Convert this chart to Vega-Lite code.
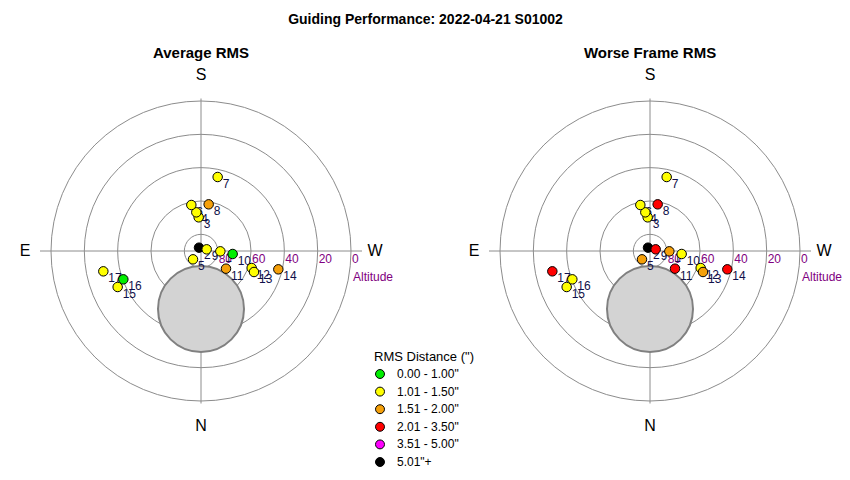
{
  "$schema": "https://vega.github.io/schema/vega-lite/v6.json",
  "padding": {"left": 1, "top": 13, "right": 0, "bottom": 0},
  "background": "white",
  "title": {"text": "Guiding Performance: 2022-04-21 S01002", "fontSize": 14, "fontWeight": "bold", "anchor": "middle", "offset": 19, "color": "black"},
  "config": {
    "font": "Liberation Sans",
    "view": {"stroke": null},
    "axis": {"disable": true},
    "legend": {"titleFontSize": 13, "titleFontWeight": "normal", "labelFontSize": 12, "symbolType": "circle", "symbolStrokeColor": "black", "symbolStrokeWidth": 1, "symbolSize": 80, "symbolOpacity": 1, "rowPadding": 3.6, "padding": 0, "labelOffset": 11, "titleColor": "black", "labelColor": "black", "titlePadding": 4}
  },
  "datasets": {
    "points": [
      {"n": "1", "x": 11.6, "y": -0.2, "avg": "1.01 - 1.50\"", "worst": "1.51 - 2.00\""},
      {"n": "2", "x": -1.2, "y": 2.0, "avg": "5.01\"+", "worst": "5.01\"+"},
      {"n": "3", "x": -1.4, "y": 20.2, "avg": "1.01 - 1.50\"", "worst": "1.01 - 1.50\""},
      {"n": "4", "x": -2.8, "y": 23.2, "avg": "1.01 - 1.50\"", "worst": "1.01 - 1.50\""},
      {"n": "5", "x": -4.8, "y": -5.0, "avg": "1.01 - 1.50\"", "worst": "1.51 - 2.00\""},
      {"n": "6", "x": -5.8, "y": 27.6, "avg": "1.01 - 1.50\"", "worst": "1.01 - 1.50\""},
      {"n": "7", "x": 10.0, "y": 44.4, "avg": "1.01 - 1.50\"", "worst": "1.01 - 1.50\""},
      {"n": "8", "x": 4.6, "y": 28.0, "avg": "1.51 - 2.00\"", "worst": "2.01 - 3.50\""},
      {"n": "9", "x": 3.4, "y": 1.0, "avg": "1.01 - 1.50\"", "worst": "2.01 - 3.50\""},
      {"n": "10", "x": 19.0, "y": -1.8, "avg": "0.00 - 1.00\"", "worst": "1.01 - 1.50\""},
      {"n": "11", "x": 15.0, "y": -10.6, "avg": "1.51 - 2.00\"", "worst": "2.01 - 3.50\""},
      {"n": "12", "x": 30.4, "y": -10.2, "avg": "1.01 - 1.50\"", "worst": "1.01 - 1.50\""},
      {"n": "13", "x": 31.8, "y": -12.6, "avg": "1.01 - 1.50\"", "worst": "1.51 - 2.00\""},
      {"n": "14", "x": 46.4, "y": -11.0, "avg": "1.51 - 2.00\"", "worst": "2.01 - 3.50\""},
      {"n": "15", "x": -50.0, "y": -21.6, "avg": "1.01 - 1.50\"", "worst": "1.01 - 1.50\""},
      {"n": "16", "x": -46.6, "y": -17.0, "avg": "0.00 - 1.00\"", "worst": "1.01 - 1.50\""},
      {"n": "17", "x": -58.6, "y": -12.2, "avg": "1.01 - 1.50\"", "worst": "2.01 - 3.50\""}
    ],
    "rings": [
      {"zd": 10, "alt": "80"},
      {"zd": 30, "alt": "60"},
      {"zd": 50, "alt": "40"},
      {"zd": 70, "alt": "20"},
      {"zd": 90, "alt": "0"}
    ],
    "dirs": [
      {"d": "S", "x": 0, "y": 105.6},
      {"d": "N", "x": 0, "y": -105},
      {"d": "E", "x": -105.6, "y": 0},
      {"d": "W", "x": 104.4, "y": 0}
    ],
    "one": [{"k": 1}]
  },
  "hconcat": [
    {
      "width": 400, "height": 360,
      "title": {"text": "Average RMS", "fontSize": 15, "fontWeight": "bold", "anchor": "middle", "offset": 6, "color": "black"},
      "layer": [
        {"data": {"name": "rings"}, "mark": {"type": "point", "shape": "circle", "filled": false, "stroke": "#8c8c8c", "strokeWidth": 1, "opacity": 1},
         "encoding": {"x": {"datum": 0, "type": "quantitative", "scale": {"domain": [-120, 120], "nice": false, "zero": false}}, "y": {"datum": 0, "type": "quantitative", "scale": {"domain": [-108, 108], "nice": false, "zero": false}},
           "size": {"field": "zd", "type": "quantitative", "scale": {"type": "pow", "exponent": 2, "domain": [0, 90], "range": [0, 90000]}, "legend": null}}},
        {"data": {"name": "one"}, "mark": {"type": "rule", "stroke": "#8c8c8c", "strokeWidth": 1}, "encoding": {"x": {"datum": -96.6, "type": "quantitative"}, "x2": {"datum": 96.6}, "y": {"datum": 0, "type": "quantitative"}}},
        {"data": {"name": "one"}, "mark": {"type": "rule", "stroke": "#8c8c8c", "strokeWidth": 1}, "encoding": {"y": {"datum": -91.5, "type": "quantitative"}, "y2": {"datum": 91.5}, "x": {"datum": 0, "type": "quantitative"}}},
        {"data": {"name": "one"}, "mark": {"type": "point", "shape": "circle", "filled": true, "fill": "#d3d3d3", "stroke": "#808080", "strokeWidth": 2, "size": 7396, "opacity": 1},
         "encoding": {"x": {"datum": 0, "type": "quantitative"}, "y": {"datum": -34.8, "type": "quantitative"}}},
        {"data": {"name": "rings"}, "mark": {"type": "text", "align": "left", "baseline": "middle", "dx": 1, "dy": 8, "fontSize": 12, "color": "#800080"},
         "encoding": {"x": {"field": "zd", "type": "quantitative"}, "y": {"datum": 0, "type": "quantitative"}, "text": {"field": "alt"}}},
        {"data": {"name": "one"}, "mark": {"type": "text", "align": "left", "baseline": "middle", "dx": 2, "dy": 26, "fontSize": 12, "color": "#800080", "text": "Altitude"},
         "encoding": {"x": {"datum": 90, "type": "quantitative"}, "y": {"datum": 0, "type": "quantitative"}}},
        {"data": {"name": "dirs"}, "mark": {"type": "text", "align": "center", "baseline": "middle", "fontSize": 16, "color": "black"},
         "encoding": {"x": {"field": "x", "type": "quantitative"}, "y": {"field": "y", "type": "quantitative"}, "text": {"field": "d"}}},
        {"data": {"name": "points"}, "mark": {"type": "text", "align": "left", "baseline": "middle", "dx": 5, "dy": 7, "fontSize": 12, "color": "#10104a"},
         "encoding": {"x": {"field": "x", "type": "quantitative"}, "y": {"field": "y", "type": "quantitative"}, "text": {"field": "n"}}},
        {"data": {"name": "points"}, "mark": {"type": "point", "shape": "circle", "filled": true, "stroke": "black", "strokeWidth": 1, "size": 90, "opacity": 1},
         "encoding": {"x": {"field": "x", "type": "quantitative"}, "y": {"field": "y", "type": "quantitative"},
           "color": {"field": "avg", "type": "nominal", "title": "RMS Distance (\")",
             "scale": {"domain": ["0.00 - 1.00\"", "1.01 - 1.50\"", "1.51 - 2.00\"", "2.01 - 3.50\"", "3.51 - 5.00\"", "5.01\"+"], "range": ["#00ee00", "#ffff00", "#f5a00a", "#ff0000", "#ff00ff", "#000000"]},
             "legend": {"orient": "none", "legendX": 373, "legendY": 280}}}}
      ]
    },
    {
      "width": 400, "height": 360,
      "title": {"text": "Worse Frame RMS", "fontSize": 15, "fontWeight": "bold", "anchor": "middle", "offset": 6, "color": "black"},
      "layer": [
        {"data": {"name": "rings"}, "mark": {"type": "point", "shape": "circle", "filled": false, "stroke": "#8c8c8c", "strokeWidth": 1, "opacity": 1},
         "encoding": {"x": {"datum": 0, "type": "quantitative", "scale": {"domain": [-120, 120], "nice": false, "zero": false}}, "y": {"datum": 0, "type": "quantitative", "scale": {"domain": [-108, 108], "nice": false, "zero": false}},
           "size": {"field": "zd", "type": "quantitative", "scale": {"type": "pow", "exponent": 2, "domain": [0, 90], "range": [0, 90000]}, "legend": null}}},
        {"data": {"name": "one"}, "mark": {"type": "rule", "stroke": "#8c8c8c", "strokeWidth": 1}, "encoding": {"x": {"datum": -96.6, "type": "quantitative"}, "x2": {"datum": 96.6}, "y": {"datum": 0, "type": "quantitative"}}},
        {"data": {"name": "one"}, "mark": {"type": "rule", "stroke": "#8c8c8c", "strokeWidth": 1}, "encoding": {"y": {"datum": -91.5, "type": "quantitative"}, "y2": {"datum": 91.5}, "x": {"datum": 0, "type": "quantitative"}}},
        {"data": {"name": "one"}, "mark": {"type": "point", "shape": "circle", "filled": true, "fill": "#d3d3d3", "stroke": "#808080", "strokeWidth": 2, "size": 7396, "opacity": 1},
         "encoding": {"x": {"datum": 0, "type": "quantitative"}, "y": {"datum": -34.8, "type": "quantitative"}}},
        {"data": {"name": "rings"}, "mark": {"type": "text", "align": "left", "baseline": "middle", "dx": 1, "dy": 8, "fontSize": 12, "color": "#800080"},
         "encoding": {"x": {"field": "zd", "type": "quantitative"}, "y": {"datum": 0, "type": "quantitative"}, "text": {"field": "alt"}}},
        {"data": {"name": "one"}, "mark": {"type": "text", "align": "left", "baseline": "middle", "dx": 2, "dy": 26, "fontSize": 12, "color": "#800080", "text": "Altitude"},
         "encoding": {"x": {"datum": 90, "type": "quantitative"}, "y": {"datum": 0, "type": "quantitative"}}},
        {"data": {"name": "dirs"}, "mark": {"type": "text", "align": "center", "baseline": "middle", "fontSize": 16, "color": "black"},
         "encoding": {"x": {"field": "x", "type": "quantitative"}, "y": {"field": "y", "type": "quantitative"}, "text": {"field": "d"}}},
        {"data": {"name": "points"}, "mark": {"type": "text", "align": "left", "baseline": "middle", "dx": 5, "dy": 7, "fontSize": 12, "color": "#10104a"},
         "encoding": {"x": {"field": "x", "type": "quantitative"}, "y": {"field": "y", "type": "quantitative"}, "text": {"field": "n"}}},
        {"data": {"name": "points"}, "mark": {"type": "point", "shape": "circle", "filled": true, "stroke": "black", "strokeWidth": 1, "size": 90, "opacity": 1},
         "encoding": {"x": {"field": "x", "type": "quantitative"}, "y": {"field": "y", "type": "quantitative"},
           "color": {"field": "worst", "type": "nominal", "title": "RMS Distance (\")",
             "scale": {"domain": ["0.00 - 1.00\"", "1.01 - 1.50\"", "1.51 - 2.00\"", "2.01 - 3.50\"", "3.51 - 5.00\"", "5.01\"+"], "range": ["#00ee00", "#ffff00", "#f5a00a", "#ff0000", "#ff00ff", "#000000"]},
             "legend": {"orient": "none", "legendX": 373, "legendY": 280}}}}
      ]
    }
  ],
  "spacing": 49
}
